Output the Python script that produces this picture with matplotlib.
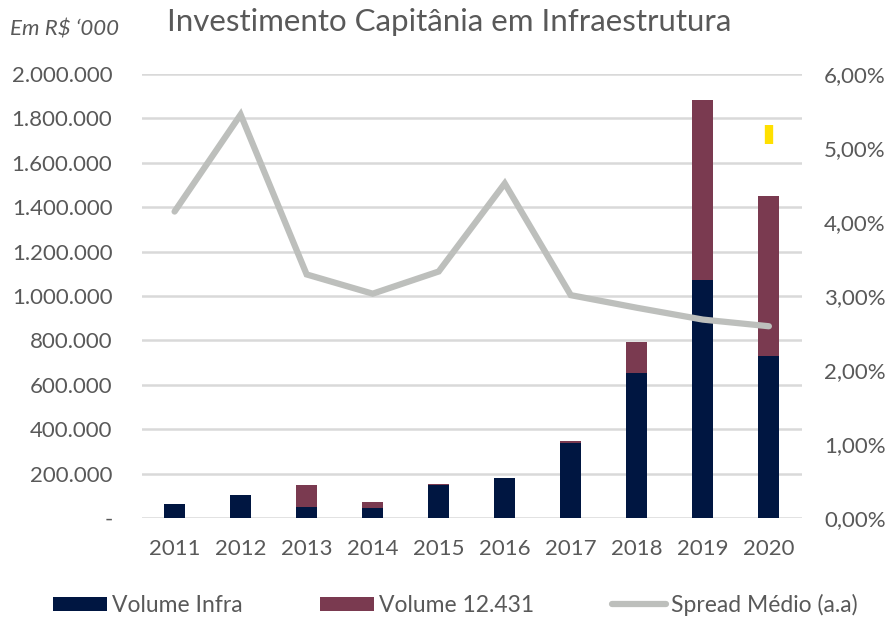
import numpy as np
import matplotlib.pyplot as plt
from matplotlib.ticker import FuncFormatter

plt.rcParams['font.family'] = ['Lato', 'DejaVu Sans']

anos = ['2011', '2012', '2013', '2014', '2015', '2016', '2017', '2018', '2019', '2020']
volume_infra = [64000, 104000, 50000, 46000, 147000, 180000, 339000, 653000, 1072000, 730000]
volume_12431 = [0, 0, 97000, 26000, 6000, 0, 8000, 140000, 811000, 719000]
spread_medio = [4.14, 5.45, 3.29, 3.03, 3.33, 4.52, 3.01, 2.84, 2.68, 2.59]
# pequeno marcador amarelo em 2020 (eixo direito, %)
marca_2020 = [5.05, 5.31]

cor_infra = '#001641'
cor_12431 = '#7a3a50'
cor_spread = '#bdbfbc'
cor_texto = '#595959'
cor_grade = '#d9d9d9'

fig = plt.figure(figsize=(8.96, 6.21), dpi=100)
ax = fig.add_axes([0.158, 0.166, 0.737, 0.715])
ax2 = ax.twinx()

x = np.arange(len(anos))
ax.bar(x, volume_infra, width=0.32, color=cor_infra, label='Volume Infra', zorder=2)
ax.bar(x, volume_12431, width=0.32, bottom=volume_infra, color=cor_12431,
       label='Volume 12.431', zorder=2)

ax2.plot(x, spread_medio, color=cor_spread, lw=4.5, solid_capstyle='round',
         solid_joinstyle='miter', label='Spread Médio (a.a)')
ax2.plot([x[-1], x[-1]], marca_2020, color='#ffe000', lw=6, solid_capstyle='butt')

ax.set_xlim(-0.5, len(anos) - 0.5)
ax.set_ylim(0, 2000000)
ax2.set_ylim(0, 6)
ax.set_yticks(np.arange(0, 2000001, 200000))
ax2.set_yticks(np.arange(0, 6.01, 1))

def fmt_esq(v, pos):
    if v == 0:
        return '-'
    return f'{int(v):,}'.replace(',', '.')

ax.yaxis.set_major_formatter(FuncFormatter(fmt_esq))
ax2.yaxis.set_major_formatter(FuncFormatter(lambda v, p: f'{v:.2f}%'.replace('.', ',')))
ax.set_xticks(x)
ax.set_xticklabels(anos)

ax.grid(axis='y', color=cor_grade, lw=1.8, zorder=0)
ax.set_axisbelow(True)
for a in (ax, ax2):
    for s in a.spines.values():
        s.set_visible(False)
    a.tick_params(length=0, labelsize=16, colors=cor_texto)
ax.tick_params(axis='y', pad=21)
ax.tick_params(axis='x', pad=15)
ax2.tick_params(axis='y', pad=16)

fig.text(0.501, 0.965, 'Investimento Capitânia em Infraestrutura', ha='center', va='center',
         fontsize=22.5, color=cor_texto)
fig.text(0.011, 0.952, 'Em R$ ‘000', ha='left', va='center', fontsize=16,
         style='italic', color=cor_texto)

h1, l1 = ax.get_legend_handles_labels()
h2, l2 = ax2.get_legend_handles_labels()
fig.legend(h1 + h2[:1], l1 + l2[:1], loc='center', bbox_to_anchor=(0.508, 0.026), ncol=3,
           frameon=False, fontsize=16.5, labelcolor=cor_texto, handlelength=2.35,
           handleheight=0.6, handletextpad=0.22, columnspacing=3.4)

fig.savefig('out.png', dpi=100)
